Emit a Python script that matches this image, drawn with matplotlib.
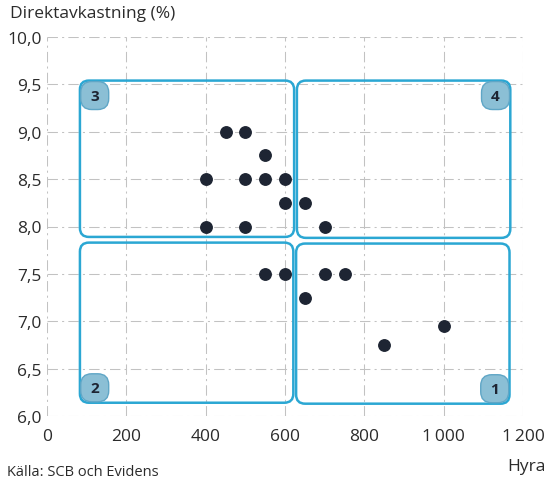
import matplotlib
matplotlib.use("Agg")
import matplotlib.pyplot as plt
from matplotlib.patches import FancyBboxPatch

plt.rcParams['font.family'] = ['Open Sans', 'DejaVu Sans']

# data: hyra (rent) vs direktavkastning (yield, %)
hyra = [450, 500, 550, 400, 500, 550, 600, 600, 650, 400, 500, 700,
        550, 600, 700, 750, 650, 850, 1000]
avkastning = [9.0, 9.0, 8.75, 8.5, 8.5, 8.5, 8.5, 8.25, 8.25, 8.0, 8.0, 8.0,
              7.5, 7.5, 7.5, 7.5, 7.25, 6.75, 6.95]

x_ticks = [0, 200, 400, 600, 800, 1000, 1200]
x_labels = ['0', '200', '400', '600', '800', '1\u2009000', '1\u2009200']
y_ticks = [6.0, 6.5, 7.0, 7.5, 8.0, 8.5, 9.0, 9.5, 10.0]
y_labels = ['6,0', '6,5', '7,0', '7,5', '8,0', '8,5', '9,0', '9,5', '10,0']

# quadrants: (number, x0, x1, y0, y1, badge corner)
quadrants = [
    ('3', 83, 623, 7.89, 9.54, 'tl'),
    ('4', 630, 1168, 7.88, 9.54, 'tr'),
    ('2', 83, 621, 6.14, 7.83, 'bl'),
    ('1', 628, 1166, 6.13, 7.82, 'br'),
]

box_col = '#2ba7d3'
dot_col = '#1e2533'
text_col = '#2b2b2b'

fig = plt.figure(figsize=(5.47, 4.81), dpi=100)
ax = fig.add_axes([47 / 547, 64 / 481, 476 / 547, 379 / 481])
ax.set_xlim(0, 1200)
ax.set_ylim(6.0, 10.0)

# aspect between x and y data units in pixels
xpx = 476 / 1200
ypx = 379 / 4
asp = xpx / ypx

ax.set_xticks(x_ticks)
ax.set_xticklabels(x_labels)
ax.set_yticks(y_ticks)
ax.set_yticklabels(y_labels)
ax.tick_params(length=0, labelsize=12.5, colors=text_col)
ax.tick_params(axis='x', pad=9)
ax.tick_params(axis='y', pad=4)
for s in ax.spines.values():
    s.set_visible(False)
ax.grid(True, color='#c2c2c2', lw=0.75, linestyle=(0, (10, 4, 2, 4)))
ax.set_axisbelow(True)

bw = 28 / xpx
bh = 28 / ypx
for num, x0, x1, y0, y1, corner in quadrants:
    ax.add_patch(FancyBboxPatch((x0, y0), x1 - x0, y1 - y0,
                                boxstyle='round,pad=0,rounding_size=%f' % (9 / xpx),
                                mutation_aspect=asp, fc='none', ec=box_col,
                                lw=1.8, zorder=3, clip_on=False))
    bx = x0 + 2 if corner[1] == 'l' else x1 - 2 - bw
    by = y1 - 0.01 - bh if corner[0] == 't' else y0 + 0.01
    ax.add_patch(FancyBboxPatch((bx, by), bw, bh,
                                boxstyle='round,pad=0,rounding_size=%f' % (11 / xpx),
                                mutation_aspect=asp, fc='#8bbfd5', ec='#5fa6c6',
                                lw=1.0, zorder=4, clip_on=False))
    ax.text(bx + bw / 2, by + bh / 2, num, ha='center', va='center',
            fontsize=11, fontweight='bold', color='#1e2533', zorder=5)

ax.scatter(hyra, avkastning, s=68, color=dot_col, zorder=6, clip_on=False)

fig.text(10 / 547, 1 - 14 / 481, 'Direktavkastning (%)', fontsize=12.5,
         color=text_col, ha='left', va='center')
fig.text(546 / 547, 1 - 467 / 481, 'Hyra', fontsize=12.5,
         color=text_col, ha='right', va='center')
fig.text(7 / 547, 1 / 481, 'Källa: SCB och Evidens', fontsize=10.5,
         color=text_col, ha='left', va='bottom')

fig.savefig('out.png', dpi=100)
